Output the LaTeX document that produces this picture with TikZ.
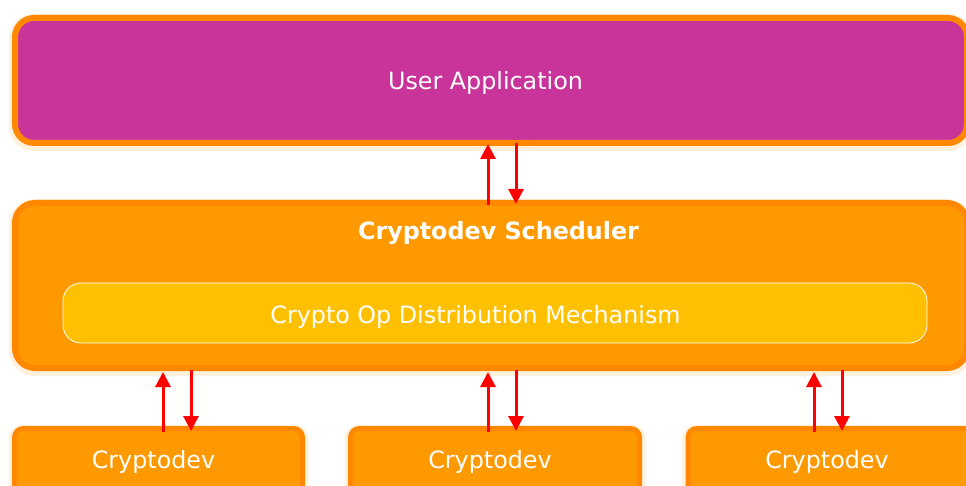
\documentclass[tikz,border=0pt]{standalone}
\usepackage{fontspec}
\setmainfont{DejaVu Sans}
\usetikzlibrary{arrows.meta,calc}
\definecolor{magen}{HTML}{C9349A}
\definecolor{orfill}{HTML}{FF9900}
\definecolor{ordraw}{HTML}{FF8800}
\definecolor{yel}{HTML}{FFC000}
\definecolor{arrred}{HTML}{FF0000}
\definecolor{glow}{HTML}{FFD9A0}
\begin{document}
\begin{tikzpicture}[x=1pt,y=-1pt,
  box/.style={rectangle, inner sep=0pt, draw=ordraw, fill=orfill, line width=6pt,
    preaction={draw=glow, line width=12pt, opacity=0.35, transform canvas={yshift=-2pt}}},
  appbox/.style={box, fill=magen, rounded corners=19pt},
  schedbox/.style={box, rounded corners=20pt},
  mechbox/.style={rectangle, inner sep=0pt, draw=white, line width=0.8pt, fill=yel, rounded corners=18pt},
  devbox/.style={box, line width=5pt, rounded corners=9pt},
  lbl/.style={anchor=base, text=white, inner sep=0pt, font=\fontsize{23.8}{28}\selectfont},
  blbl/.style={lbl, font=\fontsize{23.8}{28}\selectfont\bfseries},
  arr/.style={draw=arrred, line width=3pt, -{Triangle[length=15pt,width=15pt]}}
]
\useasboundingbox (0,0) rectangle (966,486);
\fill[white] (0,0) rectangle (966,486);

% boxes
\node[appbox, minimum width=952pt, minimum height=125pt] (app) at (491,80.5) {};
\node[schedbox, minimum width=952pt, minimum height=165pt] (sched) at (491,285.5) {};
\node[mechbox, minimum width=864pt, minimum height=60pt] (mech) at (495,313) {};
\node[devbox, minimum width=288pt, minimum height=102pt] (cd1) at (158.5,479.5) {};
\node[devbox, minimum width=289pt, minimum height=102pt] (cd2) at (495,479.5) {};
\node[devbox, minimum width=289pt, minimum height=102pt] (cd3) at (832.5,479.5) {};

% labels
\node[lbl] (applbl) at (485.5,90) {User Application};
\node[blbl] (schedlbl) at (498.5,240) {Cryptodev Scheduler};
\node[lbl] (mechlbl) at (475.5,323) {Crypto Op Distribution Mechanism};
\node[lbl] (cd1lbl) at (153.5,468) {Cryptodev};
\node[lbl] (cd2lbl) at (490,468) {Cryptodev};
\node[lbl] (cd3lbl) at (827,468) {Cryptodev};

% arrow x positions
\coordinate (tu) at (488,0);
\coordinate (td) at (516,0);
\coordinate (u1) at (163,0);
\coordinate (d1) at (191,0);
\coordinate (u2) at (488,0);
\coordinate (d2) at (516,0);
\coordinate (u3) at (814,0);
\coordinate (d3) at (842,0);

% arrows
\draw[arr] ($(tu |- sched.north)+(0,5)$) -- ($(tu |- app.south)+(0,-2)$);
\draw[arr] ($(td |- app.south)+(0,-3)$) -- ($(td |- sched.north)+(0,4)$);
\foreach \u/\d/\c in {u1/d1/cd1, u2/d2/cd2, u3/d3/cd3}{
  \draw[arr] ($(\u |- \c.north)+(0,6)$) -- ($(\u |- sched.south)+(0,1)$);
  \draw[arr] ($(\d |- sched.south)+(0,-1)$) -- ($(\d |- \c.north)+(0,5)$);
}
\end{tikzpicture}
\end{document}
